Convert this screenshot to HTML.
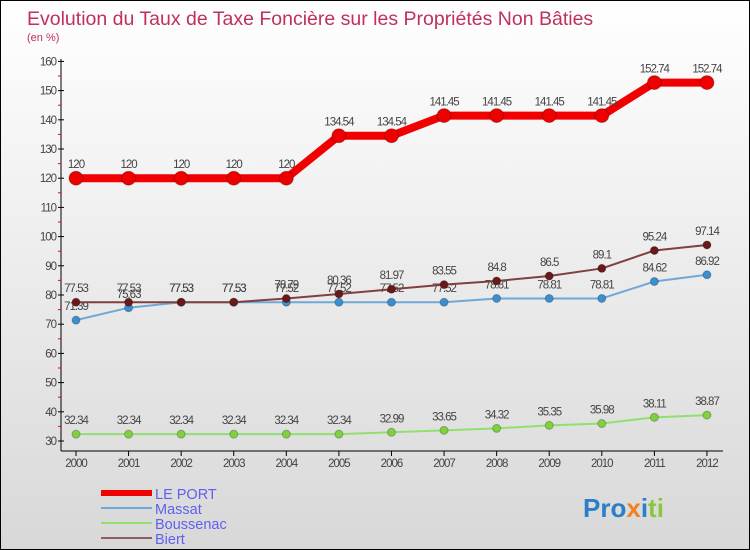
<!DOCTYPE html>
<html><head><meta charset="utf-8"><style>
body{margin:0}
#c{width:748px;height:548px;border:1px solid #000;background:linear-gradient(#fff,#d8d8d8);position:relative;font-family:"Liberation Sans",sans-serif;overflow:hidden}
svg{position:absolute;left:0;top:0}
</style></head><body>
<div id="c">
<svg id="s" width="750" height="550">
<text x="26" y="24" font-size="19.5" fill="#c0305a">Evolution du Taux de Taxe Foncière sur les Propriétés Non Bâties</text>
<text x="26" y="40" font-size="11" fill="#c0305a">(en %)</text>
<text x="582" y="516" font-size="26" font-weight="bold" fill="#2a7fc8">Pro<tspan fill="#f08020">x</tspan><tspan fill="#2a7fc8">i</tspan><tspan fill="#8cc63f">ti</tspan></text>
</svg>
</div>
<script>
const years=[2000,2001,2002,2003,2004,2005,2006,2007,2008,2009,2010,2011,2012];
const lePort=[120,120,120,120,120,134.54,134.54,141.45,141.45,141.45,141.45,152.74,152.74];
const massat=[71.39,75.63,77.53,77.53,77.52,77.52,77.52,77.52,78.81,78.81,78.81,84.62,86.92];
const boussenac=[32.34,32.34,32.34,32.34,32.34,32.34,32.99,33.65,34.32,35.35,35.98,38.11,38.87];
const biert=[77.53,77.53,77.53,77.53,78.79,80.36,81.97,83.55,84.8,86.5,89.1,95.24,97.14];
const yTicks=[30,40,50,60,70,80,90,100,110,120,130,140,150,160];
const NS="http://www.w3.org/2000/svg",s=document.getElementById('s');
const X=i=>75+i*52.58, Y=v=>440-(v-30)*2.92;
function mk(t,a,p){const e=document.createElementNS(NS,t);for(const k in a)e.setAttribute(k,a[k]);(p||s).appendChild(e);return e;}
let ax=mk('line',{x1:60,y1:58,x2:60,y2:450,stroke:'#000'});


let xa=mk('line',{x1:60,y1:450,x2:722,y2:450,stroke:'#000'});


yTicks.forEach(v=>{const y=Y(v);mk('line',{x1:57,y1:y,x2:63,y2:y,stroke:'#000'});
if(v<160)mk('line',{x1:57,y1:y-14.6,x2:60,y2:y-14.6,stroke:'#f00'});
const t=mk('text',{x:55,y:y+4,'font-size':11.5,fill:'#444','text-anchor':'end','letter-spacing':'-1'});t.textContent=v;

});
years.forEach((yr,i)=>{mk('line',{x1:X(i),y1:450,x2:X(i),y2:455,stroke:'#000'});
const t=mk('text',{x:X(i),y:466,'font-size':11.5,fill:'#444','text-anchor':'middle','letter-spacing':'-1'});t.textContent=yr;

});
function series(name,data,color,w,r,dot){
const g=mk('g',{});


mk('polyline',{points:data.map((v,i)=>X(i)+','+Y(v)).join(' '),fill:'none',stroke:color,'stroke-width':w,'stroke-linejoin':'round'},g);
data.forEach((v,i)=>{const c=mk('circle',{cx:X(i),cy:Y(v),r:r,fill:dot,stroke:'rgba(0,0,0,0.25)'},g);


const t=mk('text',{x:X(i),y:Y(v)-10,'font-size':11.5,fill:'#444','text-anchor':'middle','letter-spacing':'-1'},g);t.textContent=v;});}
series('boussenac',boussenac,'#90e070',2,4,'#80d040');
series('massat',massat,'#70a8d8',2,4,'#3a8fd0');
series('biert',biert,'#804040',2,4,'#6a1818');
series('le-port',lePort,'#f00000',8,7,'#ee0000');
const leg=[['LE PORT','#f00000',6],['Massat','#70a8d8',2],['Boussenac','#90e070',2],['Biert','#906060',2]];
leg.forEach((l,i)=>{const y=492+i*15;
mk('line',{x1:100,y1:y,x2:151,y2:y,stroke:l[1],'stroke-width':l[2]});
const t=mk('text',{x:154,y:y+6,'font-size':14.5,fill:'#6060ee'});t.textContent=l[0];

});
</script>
</body></html>
